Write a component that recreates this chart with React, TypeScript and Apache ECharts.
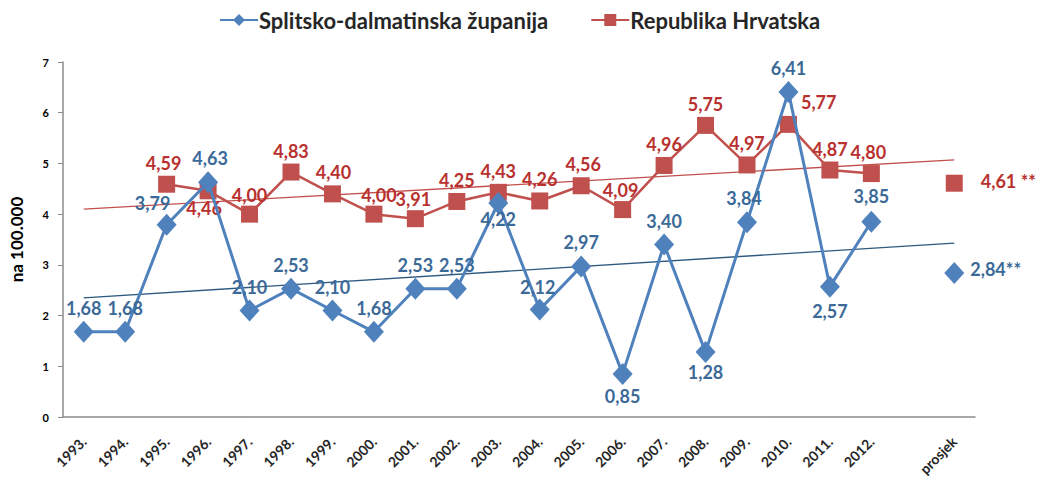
import React, { useEffect, useRef } from "react";
import * as echarts from "echarts";

const categories = ["1993.", "1994.", "1995.", "1996.", "1997.", "1998.", "1999.", "2000.", "2001.", "2002.", "2003.", "2004.", "2005.", "2006.", "2007.", "2008.", "2009.", "2010.", "2011.", "2012.", "", "prosjek"];
const splitskoValues: (number | null)[] = [1.68, 1.68, 3.79, 4.63, 2.10, 2.53, 2.10, 1.68, 2.53, 2.53, 4.22, 2.12, 2.97, 0.85, 3.40, 1.28, 3.84, 6.41, 2.57, 3.85, null, 2.84];
const hrvatskaValues: (number | null)[] = [null, null, 4.59, 4.46, 4.00, 4.83, 4.40, 4.00, 3.91, 4.25, 4.43, 4.26, 4.56, 4.09, 4.96, 5.75, 4.97, 5.77, 4.87, 4.80, null, 4.61];
const splitskoTrend = [2.35, 3.43];
const hrvatskaTrend = [4.1, 5.07];
const yTicks = [0, 1, 2, 3, 4, 5, 6, 7];

const fmt = (v: number) => v.toFixed(2).replace(".", ",");

// label placement per point: [position, dx, dy]
const blueLabelPos: [string, number, number][] = [
  ["top", 0, 0], ["top", 0, 0], ["top", -14, 2], ["top", 2, 0], ["top", 0, 0], ["top", 0, 0], ["top", 0, 0], ["top", 0, 0],
  ["top", 0, 0], ["top", 0, 0], ["bottom", 0, -8], ["top", -2, 2], ["top", 0, 0], ["bottom", 0, -2], ["top", 0, 0], ["bottom", 0, -4],
  ["top", -3, 0], ["top", 0, 0], ["bottom", 0, 0], ["top", 0, -2], ["top", 0, 0], ["right", 2, -4],
];
const redLabelPos: [string, number, number][] = [
  ["top", 0, 0], ["top", 0, 0], ["top", -3, 0], ["bottom", -4, -4], ["top", 0, 2], ["top", 0, 0], ["top", 1, 0], ["top", 5, 2],
  ["top", -2, 2], ["top", 0, 0], ["top", 0, 0], ["top", 0, 0], ["top", 2, 0], ["top", -2, 2], ["top", 0, 0], ["top", 0, 0],
  ["top", 0, 0], ["right", 0, -22], ["top", 0, 0], ["top", -3, 0], ["top", 0, 0], ["right", 14, -2],
];

const BLUE = "#4F81BD";
const BLUE_TEXT = "#3B6A98";
const RED = "#C0504D";
const RED_TEXT = "#B8312F";
const FONT = "Lato, 'Open Sans', sans-serif";

export default function App() {
  const ref = useRef<HTMLDivElement>(null);
  useEffect(() => {
    if (!ref.current) return;
    const chart = echarts.init(ref.current, undefined, { renderer: "svg" });
    const last = categories.length - 1;

    const blueData = splitskoValues.map((v, i) => {
      if (v === null) return null;
      const [pos, dx, dy] = blueLabelPos[i];
      return {
        value: v,
        label: {
          show: true,
          position: pos,
          offset: [dx, dy],
          formatter: i === last ? fmt(v) + "**" : fmt(v),
        },
      };
    });
    const redData = hrvatskaValues.map((v, i) => {
      if (v === null) return null;
      const [pos, dx, dy] = redLabelPos[i];
      return {
        value: v,
        label: {
          show: true,
          position: pos,
          offset: [dx, dy],
          formatter: i === last ? fmt(v) + " **" : fmt(v),
        },
      };
    });

    chart.setOption({
      animation: false,
      backgroundColor: "#ffffff",
      textStyle: { fontFamily: FONT },
      legend: {
        top: 4,
        left: 214,
        itemWidth: 38,
        itemHeight: 15,
        itemGap: 42,
        data: ["Splitsko-dalmatinska županija", "Republika Hrvatska"],
        textStyle: { fontFamily: FONT, fontSize: 22, fontWeight: "bold", color: "#262626", padding: [0, 0, 0, -4] },
      },
      grid: { left: 63, right: 71, top: 62, bottom: 70, containLabel: false },
      xAxis: {
        type: "category",
        data: categories,
        boundaryGap: true,
        axisLine: { lineStyle: { color: "#8c8c8c", width: 1.5 } },
        axisTick: { show: false },
        axisLabel: {
          interval: 0,
          rotate: 45,
          margin: 22,
          fontSize: 14,
          fontWeight: "bold",
          color: "#262626",
          fontFamily: FONT,
        },
      },
      yAxis: {
        type: "value",
        min: yTicks[0],
        max: yTicks[yTicks.length - 1],
        interval: 1,
        name: "na 100.000",
        nameLocation: "middle",
        nameRotate: 90,
        nameGap: 38,
        nameTextStyle: { fontSize: 17, fontWeight: "bold", color: "#000", fontFamily: FONT },
        axisLine: { show: true, lineStyle: { color: "#8c8c8c", width: 1.5 } },
        axisTick: { show: true, length: 5, inside: false, lineStyle: { color: "#8c8c8c" } },
        splitLine: { show: false },
        axisLabel: { fontSize: 11, color: "#000", margin: 14, fontFamily: FONT, fontWeight: "bold" },
      },
      series: [
        {
          name: "trendRed",
          type: "line",
          data: [[categories[0], hrvatskaTrend[0]], [categories[last], hrvatskaTrend[1]]],
          symbol: "none",
          lineStyle: { color: RED, width: 1.3 },
          silent: true,
          z: 1,
        },
        {
          name: "trendBlue",
          type: "line",
          data: [[categories[0], splitskoTrend[0]], [categories[last], splitskoTrend[1]]],
          symbol: "none",
          lineStyle: { color: "#2E5A80", width: 1.3 },
          silent: true,
          z: 1,
        },
        {
          name: "Republika Hrvatska",
          type: "line",
          data: redData,
          connectNulls: false,
          symbol: "rect",
          symbolSize: 17,
          itemStyle: { color: RED },
          lineStyle: { color: RED, width: 2.5 },
          label: {
            fontSize: 18,
            fontWeight: "bold",
            color: RED_TEXT,
            fontFamily: FONT,
            distance: 4,
          },
          z: 3,
        },
        {
          name: "Splitsko-dalmatinska županija",
          type: "line",
          data: blueData,
          connectNulls: false,
          symbol: "diamond",
          symbolSize: [20, 22],
          itemStyle: { color: BLUE },
          lineStyle: { color: BLUE, width: 3 },
          label: {
            fontSize: 18,
            fontWeight: "bold",
            color: BLUE_TEXT,
            fontFamily: FONT,
            distance: 4,
          },
          z: 4,
        },
      ],
    });
    return () => chart.dispose();
  }, []);
  return <div ref={ref} style={{ width: 1046, height: 487, position: "absolute", left: 0, top: 0 }} />;
}
